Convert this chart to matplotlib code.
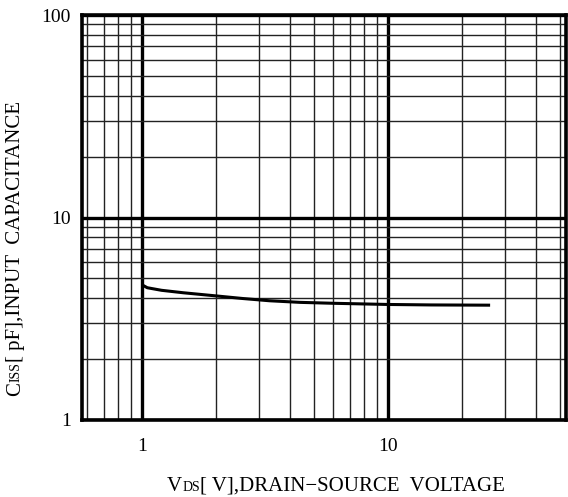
import numpy as np
import matplotlib
matplotlib.use("Agg")
import matplotlib.pyplot as plt
from matplotlib.ticker import LogLocator, FixedLocator, NullFormatter

# data
vds = [1.0, 1.05, 1.2, 1.47, 2.0, 2.57, 3.3, 4.39, 6.0, 10.0, 15.0, 26.0]
ciss = [4.65, 4.5, 4.37, 4.25, 4.1, 3.98, 3.88, 3.81, 3.77, 3.72, 3.70, 3.69]

x_ticks = [1, 10]
x_ticklabels = ["1", "10"]
y_ticks = [1, 10, 100]
y_ticklabels = ["1", "10", "100"]

serif = "Liberation Serif"
W, H = 568, 497

fig = plt.figure(figsize=(W / 100, H / 100), dpi=100)
ax = fig.add_axes([82 / W, 1 - 420 / H, (566 - 82) / W, (420 - 15) / H])
ax.set_xscale("log")
ax.set_yscale("log")
ax.set_xlim(0.57, 52.9)
ax.set_ylim(1, 100)

ax.plot(vds, ciss, color="black", lw=2.2, solid_capstyle="butt", zorder=3)

ax.xaxis.set_major_locator(FixedLocator(x_ticks))
ax.yaxis.set_major_locator(FixedLocator(y_ticks))
ax.xaxis.set_minor_locator(LogLocator(base=10, subs=np.arange(2, 10)))
ax.yaxis.set_minor_locator(LogLocator(base=10, subs=np.arange(2, 10)))
ax.xaxis.set_minor_formatter(NullFormatter())
ax.yaxis.set_minor_formatter(NullFormatter())
ax.set_xticklabels(x_ticklabels, fontfamily=serif, fontsize=14)
ax.set_yticklabels(y_ticklabels, fontfamily=serif, fontsize=14)
ax.tick_params(which="both", length=0)
ax.tick_params(axis="x", pad=13)
ax.tick_params(axis="y", pad=8)

ax.grid(which="major", color="black", lw=2.4)
ax.grid(which="minor", color="#222222", lw=1.0)
ax.set_axisbelow(True)
for s in ax.spines.values():
    s.set_linewidth(2.6)
    s.set_zorder(4)

# axis labels built from pieces (small caps subscripts)
renderer = fig.canvas.get_renderer()


def chain(pieces, x0, y0, rotation=0):
    x, y = x0, y0
    for txt, size in pieces:
        t = fig.text(x / W, 1 - y / H, txt, fontsize=size, fontfamily=serif,
                     rotation=rotation, ha="left", va="baseline",
                     rotation_mode="anchor")
        bb = t.get_window_extent(renderer)
        if rotation == 0:
            x += bb.width
        else:
            y -= bb.height


chain([("V", 15), ("DS", 10), ("[ V],DRAIN\u2212SOURCE  VOLTAGE", 15)], 167, 491)
chain([("C", 15), ("ISS", 10), ("[ pF],INPUT  CAPACITANCE", 15)], 20, 396, rotation=90)

fig.savefig("out.png", dpi=100)
